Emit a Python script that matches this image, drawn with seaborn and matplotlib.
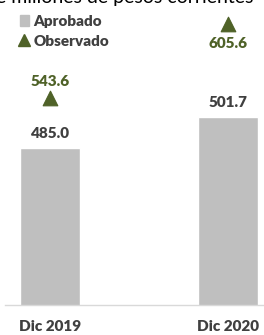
import numpy as np
import pandas as pd
import seaborn as sns
import matplotlib.pyplot as plt
from matplotlib.lines import Line2D
from matplotlib.patches import Patch

# Chart data
periodos = ['Dic 2019', 'Dic 2020']
aprobado = [485.0, 501.7]
observado = [543.6, 605.6]

gris = '#bfbfbf'
verde = '#4f6228'
texto = '#404040'

sns.set_style('white')
plt.rcParams['font.family'] = ['Lato', 'DejaVu Sans']

df = pd.DataFrame({'Periodo': periodos, 'Aprobado': aprobado, 'Observado': observado})

fig = plt.figure(figsize=(2.64, 3.35), dpi=100)
W, H = 264, 335
ax = fig.add_axes([5 / W, 30 / H, 259 / W, 305 / H])

sns.barplot(data=df, x='Periodo', y='Aprobado', color=gris, width=0.338,
            saturation=1, ax=ax)
ax.set_xlim(-0.2535, 1.2056)
ax.set_ylim(400.4, 564.7)

# observed values drawn on a second scale
ax2 = ax.twinx()
sns.scatterplot(data=df, x='Periodo', y='Observado', marker='^', s=110,
                color=verde, edgecolor=verde, ax=ax2, legend=False)
ax2.set_ylim(369.6, 626.0)
ax2.set_xlim(-0.2535, 1.2056)

for a in (ax, ax2):
    for s in a.spines.values():
        s.set_visible(False)
    a.set_yticks([])
    a.set_ylabel('')
    a.set_xlabel('')
ax2.tick_params(axis='x', bottom=False, labelbottom=False)

ax.spines['bottom'].set_visible(True)
ax.spines['bottom'].set_color('#d9d9d9')
ax.spines['bottom'].set_linewidth(1)
ax.set_xticks(range(len(periodos)))
ax.set_xticklabels(periodos, fontsize=11, fontweight='heavy', color=texto)
ax.tick_params(axis='x', which='major', length=0, pad=11)
ax.set_xticks([0.468, 0.552], minor=True)
ax.tick_params(axis='x', which='minor', length=5, color='#d9d9d9', width=1)

for i, v in enumerate(aprobado):
    ax.annotate(f'{v:.1f}', (i, v), xytext=(0, 6), textcoords='offset points',
                ha='center', va='bottom', fontsize=11, fontweight='heavy', color=texto)

# 2019 label above the marker, 2020 label below it
offsets = [(7, 'bottom'), (-9, 'top')]
for i, v in enumerate(observado):
    dy, va = offsets[i]
    ax2.annotate(f'{v:.1f}', (i, v), xytext=(0, dy), textcoords='offset points',
                 ha='center', va=va, fontsize=11, fontweight='heavy', color=verde)

handles = [Patch(facecolor=gris, edgecolor=gris, label='Aprobado'),
           Line2D([], [], marker='^', linestyle='', color=verde, markersize=8,
                  label='Observado')]
leg = fig.legend(handles=handles, loc='upper left', bbox_to_anchor=(12 / W, 1 - 7 / H),
                 frameon=False, handlelength=0.6, handletextpad=0.3,
                 labelspacing=0.45, borderpad=0, prop={'weight': 'heavy', 'size': 11})
for t in leg.get_texts():
    t.set_color(texto)

fig.text(-15 / W, 1 - 3 / H, 'de millones de pesos corrientes', ha='left',
         va='baseline', fontsize=14, color='black')

fig.savefig('out.png', dpi=100)
